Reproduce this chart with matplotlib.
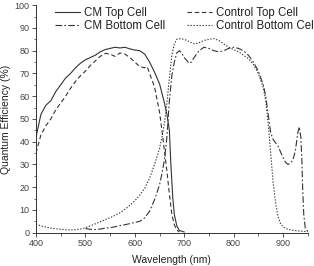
import matplotlib
matplotlib.use("Agg")
import matplotlib.pyplot as plt
from matplotlib.ticker import MultipleLocator

plt.rcParams['font.family'] = ['Liberation Sans', 'DejaVu Sans']

# CM Top Cell (solid)
wl_cm_top = [400, 410, 420, 430, 440, 450, 460, 470, 480, 490, 500, 510, 520, 530, 540,
             550, 560, 570, 580, 590, 600, 610, 620, 630, 640, 650, 660, 665, 670, 673,
             677, 680, 685, 690, 700]
qe_cm_top = [42, 52, 56, 58, 62, 65, 68, 70, 72.5, 74.5, 76, 77, 78, 79.5, 80.5,
             81, 81.5, 81.2, 81.5, 80.8, 80.3, 80, 78.5, 75, 70.5, 65.5, 57, 52, 45, 30,
             15, 8, 3, 1, 0.3]

# CM Bottom Cell (dash-dot)
wl_cm_bot = [500, 510, 520, 530, 540, 550, 560, 570, 580, 590, 600, 610, 620, 630, 640,
             650, 655, 660, 665, 670, 675, 680, 685, 690, 695, 700, 710, 715, 720, 730,
             740, 750, 760, 770, 780, 790, 800, 810, 820, 830, 840, 850, 860, 865, 870,
             875, 880, 890, 900, 905, 910, 915, 920, 925, 930, 933, 936, 938, 940, 942,
             945, 950]
qe_cm_bot = [1.8, 1.5, 1.4, 1.6, 2, 2.2, 2.6, 3.1, 3.5, 4, 4.5, 5, 6.5, 9.5, 14.5,
             21, 26, 32, 42, 58, 69, 75, 79, 80, 79, 77, 74.5, 75, 77, 80,
             81.5, 81, 80, 79.5, 80, 81, 81.5, 81, 80, 78, 75, 71, 65, 60, 52,
             44, 41, 38, 33, 31, 30, 30.5, 32, 36, 44, 46.5, 42, 33, 18, 8,
             2, 0.5]

# Control Top Cell (dashed)
wl_ct_top = [400, 410, 420, 430, 440, 450, 460, 470, 480, 490, 500, 510, 520, 530, 540,
             550, 560, 570, 580, 590, 600, 610, 620, 625, 630, 640, 650, 655, 660, 665,
             670, 675, 680, 685, 690]
qe_ct_top = [35, 43, 47, 50, 54, 57, 60, 63.5, 66.5, 69, 71, 73.5, 75.5, 77.5, 78.8,
             78.5, 77.5, 79, 78.5, 77, 75, 73, 72.5, 73, 70, 64, 53, 45, 36, 27,
             17, 8, 3.5, 1.2, 0.3]

# Control Bottom Cell (dotted)
wl_ct_bot = [400, 410, 420, 430, 440, 450, 460, 470, 480, 490, 500, 510, 520, 530, 540,
             550, 560, 570, 580, 590, 600, 610, 620, 630, 640, 650, 655, 660, 665, 670,
             675, 680, 685, 690, 700, 710, 720, 730, 740, 750, 760, 770, 780, 790, 800,
             810, 820, 830, 840, 850, 860, 865, 870, 875, 880, 885, 890, 895, 900, 910,
             920, 930, 940, 950]
qe_ct_bot = [3.8, 3, 2.5, 2, 1.7, 1.5, 1.3, 1.2, 1.3, 1.6, 2.2, 3, 3.9, 4.8, 5.7,
             6.6, 7.6, 8.8, 10.3, 12, 14, 16.5, 19.5, 24, 30, 37, 42, 48, 57, 68,
             78, 83, 85, 85.3, 85, 84, 83, 83.5, 84.5, 85, 85.3, 84.5, 83, 81.5, 80.5,
             79.5, 78, 76.5, 74, 70, 64, 58, 48, 35, 22, 13, 7, 4, 2.5, 1.5,
             1, 0.8, 0.6, 0.5]

fig = plt.figure(figsize=(3.14, 2.66), dpi=100)
ax = fig.add_axes([0.1146, 0.1252, 0.8654, 0.8553])

col = '#333333'
lw = 0.8
l1, = ax.plot(wl_cm_top, qe_cm_top, color=col, lw=lw, ls='-')
l2, = ax.plot(wl_cm_bot, qe_cm_bot, color=col, lw=lw, ls=(0, (6, 2, 1.5, 2)))
l3, = ax.plot(wl_ct_top, qe_ct_top, color=col, lw=lw, ls=(0, (4, 2.5)))
l4, = ax.plot(wl_ct_bot, qe_ct_bot, color=col, lw=lw, ls=(0, (1.2, 1.5)))

ax.set_xlim(400, 950)
ax.set_ylim(0, 100)
ax.xaxis.set_major_locator(MultipleLocator(100))
ax.xaxis.set_minor_locator(MultipleLocator(50))
ax.yaxis.set_major_locator(MultipleLocator(10))
ax.yaxis.set_minor_locator(MultipleLocator(5))
ax.tick_params(which='major', direction='out', length=3, width=0.6, labelsize=6.5,
               colors='#333333', labelcolor='#444444', pad=1.5)
ax.tick_params(which='minor', direction='out', length=1.8, width=0.5, colors='#333333')
ax.spines['top'].set_visible(False)
ax.spines['right'].set_visible(False)
for s in ('left', 'bottom'):
    ax.spines[s].set_linewidth(0.7)
    ax.spines[s].set_color('#333333')

ax.set_xlabel('Wavelength (nm)', fontsize=7.5, color='#222222', labelpad=5)
ax.set_ylabel('Quantum Efficiency (%)', fontsize=7.5, color='#222222', labelpad=3)

fig.legend([l1, l2, l3, l4],
           ['CM Top Cell', 'CM Bottom Cell', 'Control Top Cell', 'Control Bottom Cell'],
           ncol=2, loc='upper left', bbox_to_anchor=(55 / 314, 0.975), frameon=False,
           fontsize=8.3, borderpad=0, borderaxespad=0, handlelength=2.2,
           handletextpad=0.35, columnspacing=1.85, labelspacing=0.15,
           labelcolor='#222222')

fig.savefig('out.png', dpi=100)
